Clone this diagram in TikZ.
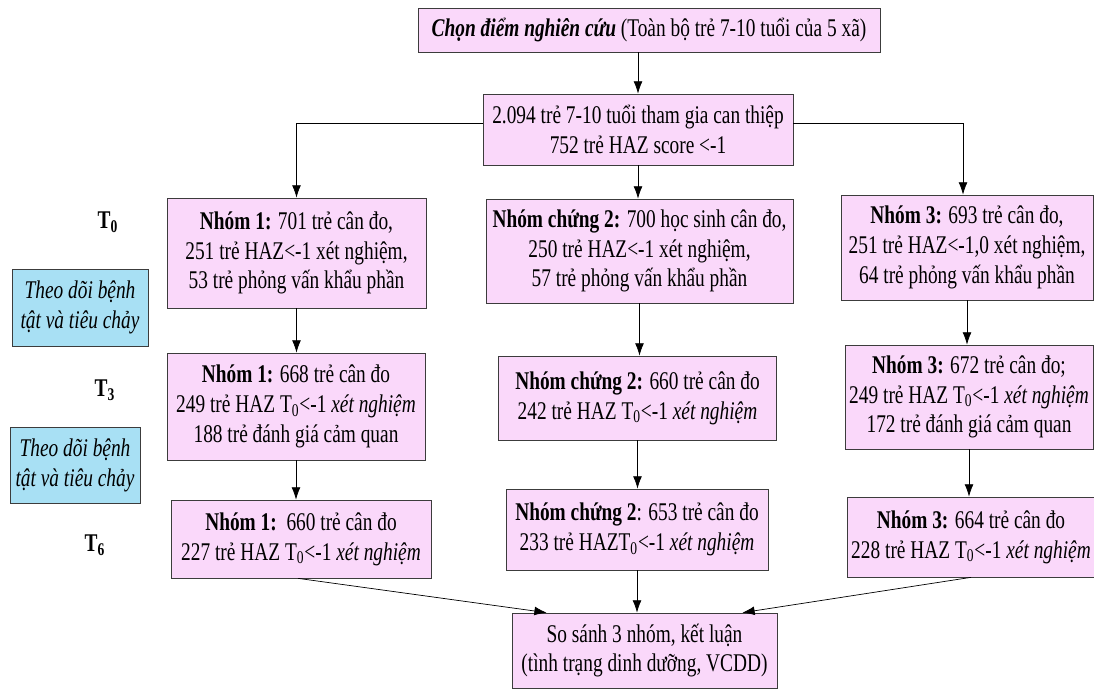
\documentclass[tikz,border=0pt]{standalone}
\usepackage{fontspec}
\setmainfont{Liberation Serif}[FakeStretch=0.76]
\usetikzlibrary{arrows.meta, positioning}
\definecolor{boxpink}{RGB}{250,216,250}
\definecolor{boxblue}{RGB}{168,224,244}
\definecolor{boxline}{RGB}{60,60,60}
\tikzset{
	->, % every connector gets a head
	>={Latex[length=7pt,width=5pt]}, % filled heads as in the scheme
	line width=0.8pt,
	box/.style={draw=boxline, fill=boxpink, align=center, inner sep=2pt,
		font=\fontsize{14.5}{17}\selectfont}, % pink group boxes
	note/.style={box, fill=boxblue, font=\fontsize{14.5}{17}\selectfont\itshape}, % follow-up boxes
	stage/.style={font=\fontsize{14.5}{17}\selectfont\bfseries}, % T0, T3, T6
}

\begin{document}
\begin{tikzpicture}[x=0.02cm, y=-0.02cm]
	\useasboundingbox (0,0) rectangle (1094,690);

	\node[box, minimum width=9.24cm, minimum height=0.88cm] (top) at (649,30)
		{\textbf{\textit{Chọn điểm nghiên cứu}} (Toàn bộ trẻ 7-10 tuổi của 5 xã)};
	\node[box, minimum width=6.2cm, minimum height=1.42cm] (inter) at (638,129.5)
		{2.094 trẻ 7-10 tuổi tham gia can thiệp\\752 trẻ HAZ score <-1};

	% T0
	\node[box, minimum width=5.18cm, minimum height=2.2cm] (g1a) at (296.5,253)
		{\textbf{Nhóm 1:} 701 trẻ cân đo,\\251 trẻ HAZ<-1 xét nghiệm,\\53 trẻ phỏng vấn khẩu phần};
	\node[box, minimum width=6.14cm, minimum height=2.08cm] (g2a) at (639.5,251)
		{\textbf{Nhóm chứng 2:} 700 học sinh cân đo,\\250 trẻ HAZ<-1 xét nghiệm,\\57 trẻ phỏng vấn khẩu phần};
	\node[box, minimum width=5.04cm, minimum height=2.1cm] (g3a) at (967,247.5)
		{\textbf{Nhóm 3:} 693 trẻ cân đo,\\251 trẻ HAZ<-1,0 xét nghiệm,\\64 trẻ phỏng vấn khẩu phần};

	% T3
	\node[box, minimum width=5.16cm, minimum height=2.14cm] (g1b) at (296,406.5)
		{\textbf{Nhóm 1:} 668 trẻ cân đo\\249 trẻ HAZ T\textsubscript{0}<-1 \textit{xét nghiệm}\\188 trẻ đánh giá cảm quan};
	\node[box, minimum width=5.56cm, minimum height=1.68cm] (g2b) at (637.5,398)
		{\textbf{Nhóm chứng 2:} 660 trẻ cân đo\\242 trẻ HAZ T\textsubscript{0}<-1 \textit{xét nghiệm}};
	\node[box, minimum width=4.96cm, minimum height=2.08cm] (g3b) at (969,397)
		{\textbf{Nhóm 3:} 672 trẻ cân đo;\\249 trẻ HAZ T\textsubscript{0}<-1 \textit{xét nghiệm}\\172 trẻ đánh giá cảm quan};

	% T6
	\node[box, minimum width=5.2cm, minimum height=1.56cm] (g1c) at (301,539)
		{\textbf{Nhóm 1:}\ \ 660 trẻ cân đo\\227 trẻ HAZ T\textsubscript{0}<-1 \textit{xét nghiệm}};
	\node[box, minimum width=5.24cm, minimum height=1.62cm] (g2c) at (637,529.5)
		{\textbf{Nhóm chứng 2}: 653 trẻ cân đo\\233 trẻ HAZT\textsubscript{0}<-1 \textit{xét nghiệm}};
	\node[box, minimum width=4.88cm, minimum height=1.6cm] (g3c) at (971,537)
		{\textbf{Nhóm 3:} 664 trẻ cân đo\\228 trẻ HAZ T\textsubscript{0}<-1 \textit{xét nghiệm}};

	\node[box, minimum width=5.3cm, minimum height=1.5cm] (final) at (644.5,650.5)
		{So sánh 3 nhóm, kết luận\\(tình trạng dinh dưỡng, VCDD)};

	% left margin
	\node[stage] (t0) at (108,222) {T\textsubscript{0}};
	\node[stage] (t3) at (105,390) {T\textsubscript{3}};
	\node[stage] (t6) at (95,545) {T\textsubscript{6}};
	\node[note, minimum width=2.72cm, minimum height=1.54cm] (watch1) at (80,307.5)
		{Theo dõi bệnh\\tật và tiêu chảy};
	\node[note, minimum width=2.6cm, minimum height=1.52cm] (watch2) at (75,465)
		{Theo dõi bệnh\\tật và tiêu chảy};

	\coordinate (inL) at ([xshift=0.7cm]final.north west);
	\coordinate (inR) at ([xshift=-0.7cm]final.north east);

	\path (inter.north |- top.south) edge (inter.north)
		  (inter.south) edge (inter.south |- g2a.north)
		  (g1a.south) edge (g1a.south |- g1b.north)
		  (g1b.south) edge (g1b.south |- g1c.north)
		  (g2a.south) edge (g2a.south |- g2b.north)
		  (g2b.south) edge (g2b.south |- g2c.north)
		  (g2c.south) edge (g2c.south |- final.north)
		  (g3a.south) edge (g3a.south |- g3b.north)
		  (g3b.south) edge (g3b.south |- g3c.north)
		  ([xshift=-0.06cm]g1c.south) edge (inL)
		  (g3c.south) edge (inR);
	\draw ([yshift=0.13cm]inter.west) -| (g1a.north);
	\draw ([yshift=0.13cm]inter.east) -| ([xshift=-0.08cm]g3a.north);
\end{tikzpicture}
\end{document}
